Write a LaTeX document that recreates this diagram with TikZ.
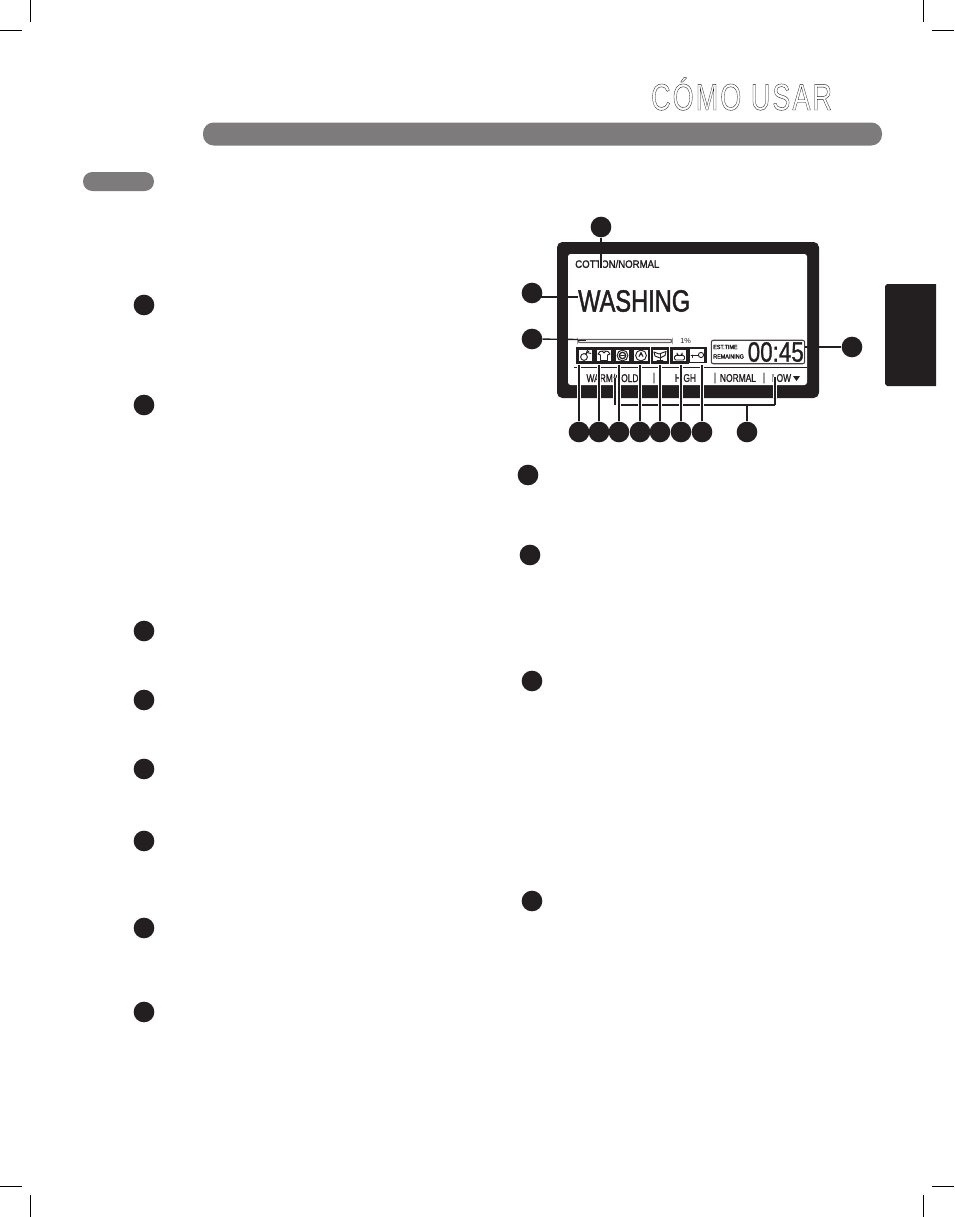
\documentclass[tikz,border=0pt]{standalone}
\usepackage{fontspec}
\setmainfont{Liberation Sans}
\usetikzlibrary{calc}
\definecolor{ink}{HTML}{231F20}
\definecolor{bar}{HTML}{7D7B7C}
\newcommand\szf[1]{\fontsize{#1}{#1}\selectfont}
\newcommand\outlinetext[1]{\special{pdf: code 1 Tr 0.3 w}#1\special{pdf: code 0 Tr 1 w}}
\newcommand\heavy[2]{\special{pdf: code 2 Tr #1 w}#2\special{pdf: code 0 Tr 1 w}}
\tikzset{
  x=0.75pt,y=-0.75pt,
  num/.style={circle,fill=ink,draw=none,minimum size=15.5pt,inner sep=0pt},
  crop/.style={draw=black,line width=0.75pt},
  lead/.style={draw=ink,line width=1.05pt},
  halo/.style={draw=white,line width=3.6pt},
  thinline/.style={draw=ink,line width=0.6pt},
  iconbox/.style={draw=ink,line width=1.7pt,fill=white,minimum width=12pt,minimum height=10.5pt,inner sep=0pt},
  lbl/.style={inner sep=0pt,text=ink},
  rowlbl/.style={lbl,xscale=0.75,font=\szf{8.4}},
  glyph/.style={draw=ink,line width=0.7pt,line cap=round,line join=round},
}
\newcommand\upLead[3]{%
  \coordinate (t#1) at (#2,#3);
  \draw[halo] (t#1) -- (#2,415);
  \draw[lead] (n#1) -- (t#1);
}
\begin{document}
\begin{tikzpicture}
\useasboundingbox (0,0) rectangle (954,1217);
% crop marks
\draw[crop] (30,0) -- (30,22);
\draw[crop] (0,30) -- (22,30);
\draw[crop] (923,0) -- (923,22);
\draw[crop] (932,30) -- (954,30);
\draw[crop] (30,1195) -- (30,1217);
\draw[crop] (0,1186) -- (22,1186);
\draw[crop] (923,1195) -- (923,1217);
\draw[crop] (932,1186) -- (954,1186);
% header
\node[lbl,anchor=base west,xscale=0.72,font=\szf{28}\addfontfeature{LetterSpace=8}] (title) at (651,110) {\outlinetext{CÓMO USAR}};
\fill[bar,rounded corners=8pt] (203,122.5) rectangle (882,145.5);
\fill[bar,rounded corners=7pt] (83,172) rectangle (154,191);
\fill[ink] (885,286) -- (887,284) -- (936,284) -- (936,386) -- (887,386) -- (885,384) -- cycle;
% left and right column markers
\foreach \nm/\px/\py in {a/144/305,b/144/405,c/144/631,d/144/700,e/144/769,f/144/841,g/144/928,h/144/1012,i/528/475,j/530/555,k/532/681,l/532/901}
  \node[num] (m\nm) at (\px,\py) {};
% display frame
\fill[ink,rounded corners=4pt] (557,242) rectangle (819,398);
\fill[white,rounded corners=2pt] (568,254) rectangle (807,385);
% display text
\node[lbl,anchor=west,xscale=0.9,font=\szf{8}] (cycle) at (575,264) {\heavy{0.15}{COTTON/NORMAL}};
\node[lbl,anchor=west,xscale=0.77,font=\szf{23}] (state) at (578,301) {\heavy{0.4}{WASHING}};
\node[lbl,anchor=west,font=\szf{5.5}] (pct) at (680,341) {1\%};
\draw[draw=ink!70,line width=0.9pt,rounded corners=1.5pt] (578,339.5) rectangle (672,342.5);
\draw[ink,line width=1.4pt] (578,340.5) -- (586,340.5);
\coordinate (pbar) at (578,339.5);
% time box
\node[draw=ink!85,line width=0.8pt,rounded corners=1.5pt,minimum width=70pt,minimum height=17.6pt,inner sep=0pt] (timebox) at (758,352) {};
\node[lbl,anchor=west,xscale=0.9,font=\szf{4.5}] (est) at (713,347) {\heavy{0.1}{EST.TIME}};
\node[lbl,anchor=west,xscale=0.9,font=\szf{4.5}] (rem) at (713,356.5) {\heavy{0.1}{REMAINING}};
\node[lbl,anchor=east,xscale=0.8,font=\szf{21}] (time) at (804,352) {\heavy{0.2}{00:45}};
% option row
\draw[thinline] (574,367) -- (807,367);
\node[rowlbl] (temp) at (612.5,378) {\heavy{0.12}{WARM/COLD}};
\node[rowlbl] (sepa) at (654,378) {\heavy{0.12}{|}};
\node[rowlbl] (spin) at (685.5,378) {\heavy{0.12}{HIGH}};
\node[rowlbl] (sepb) at (715,378) {\heavy{0.12}{|}};
\node[rowlbl] (soil) at (738,378) {\heavy{0.12}{NORMAL}};
\node[rowlbl] (sepc) at (764,378) {\heavy{0.12}{|}};
\node[rowlbl] (opt) at (781.5,378) {\heavy{0.12}{LOW}};
\fill[ink] (793,376) -- (800,376) -- (796.5,381) -- cycle;
% icons
\node[iconbox] (ia) at (585.5,355.5) {};
\node[iconbox] (ib) at (604,355.5) {};
\node[iconbox] (ic) at (622.5,355.5) {};
\node[iconbox] (id) at (641,355.5) {};
\node[iconbox] (ie) at (660,355.5) {};
\node[iconbox] (if) at (679.5,355.5) {};
\node[iconbox,line width=0.9pt] (ig) at (697,355.5) {};
\draw[ink,line width=1.7pt] (688.5,348) -- (705.5,348) -- (705.5,363);
% icon a: sprout
\draw[glyph] (584,357) circle (3.4);
\draw[glyph] (585.5,354) -- (589,351);
\draw[glyph] (587,352.5) -- (591,353.5);
\draw[glyph] (586.5,352.5) -- (587.5,350.5);
% icon b: shirt
\draw[glyph] (600,351.5) -- (603,351) -- (605,351) -- (608,351.5) -- (610,354) -- (607.5,355) -- (607.5,360.5) -- (600.5,360.5) -- (600.5,355) -- (598,354) -- cycle;
\draw[glyph] (602.5,351.5) -- (604,353) -- (605.5,351.5);
% icon c: drum
\draw[glyph] (622.5,355.5) circle (5.4);
\draw[glyph,line width=1pt] (622.5,355.5) circle (3.2);
\draw[glyph] (620.5,355.5) -- (624.5,355.5);
% icon d: drop in ring
\draw[glyph] (641,355.5) circle (5.4);
\draw[glyph] (641,352.5) -- (643,356.5) arc (0:-180:2) -- cycle;
% icon e: tub with arrows
\draw[glyph] (654,352) -- (659,354) -- (666,351.5);
\draw[glyph] (655,356) -- (660,358) -- (665,355.5);
\draw[glyph] (657,360) -- (663,360) (660,354) -- (660,360);
\draw[glyph] (654,352) -- (655,356) (666,351.5) -- (665,355.5);
% icon f: lock
\draw[glyph] (677,355.5) -- (677,353) arc (180:0:2.6) -- (682.2,355.5);
\draw[glyph,rounded corners=1pt] (674.5,355.5) rectangle (684.5,360);
% icon g: key
\draw[glyph] (701,355) circle (2.6);
\draw[glyph] (691,355) -- (698.4,355);
\draw[glyph] (692.5,355) -- (692.5,357.5);
% numbered markers of the display
\node[num] (nt) at (601,227) {};
\node[num] (ns) at (532,293) {};
\node[num] (np) at (532,339) {};
\node[num] (nr) at (852,347) {};
\node[num] (n1) at (579,432) {};
\node[num] (n2) at (599,432) {};
\node[num] (n3) at (619,432) {};
\node[num] (n4) at (640,432) {};
\node[num] (n5) at (660,432) {};
\node[num] (n6) at (681,432) {};
\node[num] (n7) at (702,432) {};
\node[num] (n8) at (747,432) {};
% bracket
\coordinate (bl) at (617,405);
\coordinate (blt) at (615,378);
\coordinate (blb) at (615,405);
\coordinate (br) at (775,405);
\coordinate (brt) at (775,377);
\coordinate (bm) at (747,405);
\draw[lead,line width=0.85pt] (bl) -- (br);
\draw[halo,line width=2.6pt] (blt) -- (blb);
\draw[halo,line width=2.6pt] (brt) -- (775,398);
\draw[lead,line width=0.85pt] (blt) -- (blb);
\draw[lead,line width=0.85pt] (brt) -- (br);
\draw[lead] (n8) -- (bm);
% leaders from markers
\upLead{1}{579}{365}
\upLead{2}{599}{365}
\upLead{3}{619}{365}
\upLead{4}{640}{365}
\upLead{5}{660}{365}
\upLead{6}{681}{365}
\upLead{7}{702}{365}
\coordinate (tt) at (601,268);
\draw[halo] (tt) -- (601,255);
\draw[lead] (nt) -- (tt);
\coordinate (ts) at (578,297);
\coordinate (ss) at (540,297);
\draw[lead] (ss) -- (ts);
\draw[lead] (np) -- (pbar);
\coordinate (tr) at (805,347);
\draw[lead] (nr) -- (tr);
\end{tikzpicture}
\end{document}
